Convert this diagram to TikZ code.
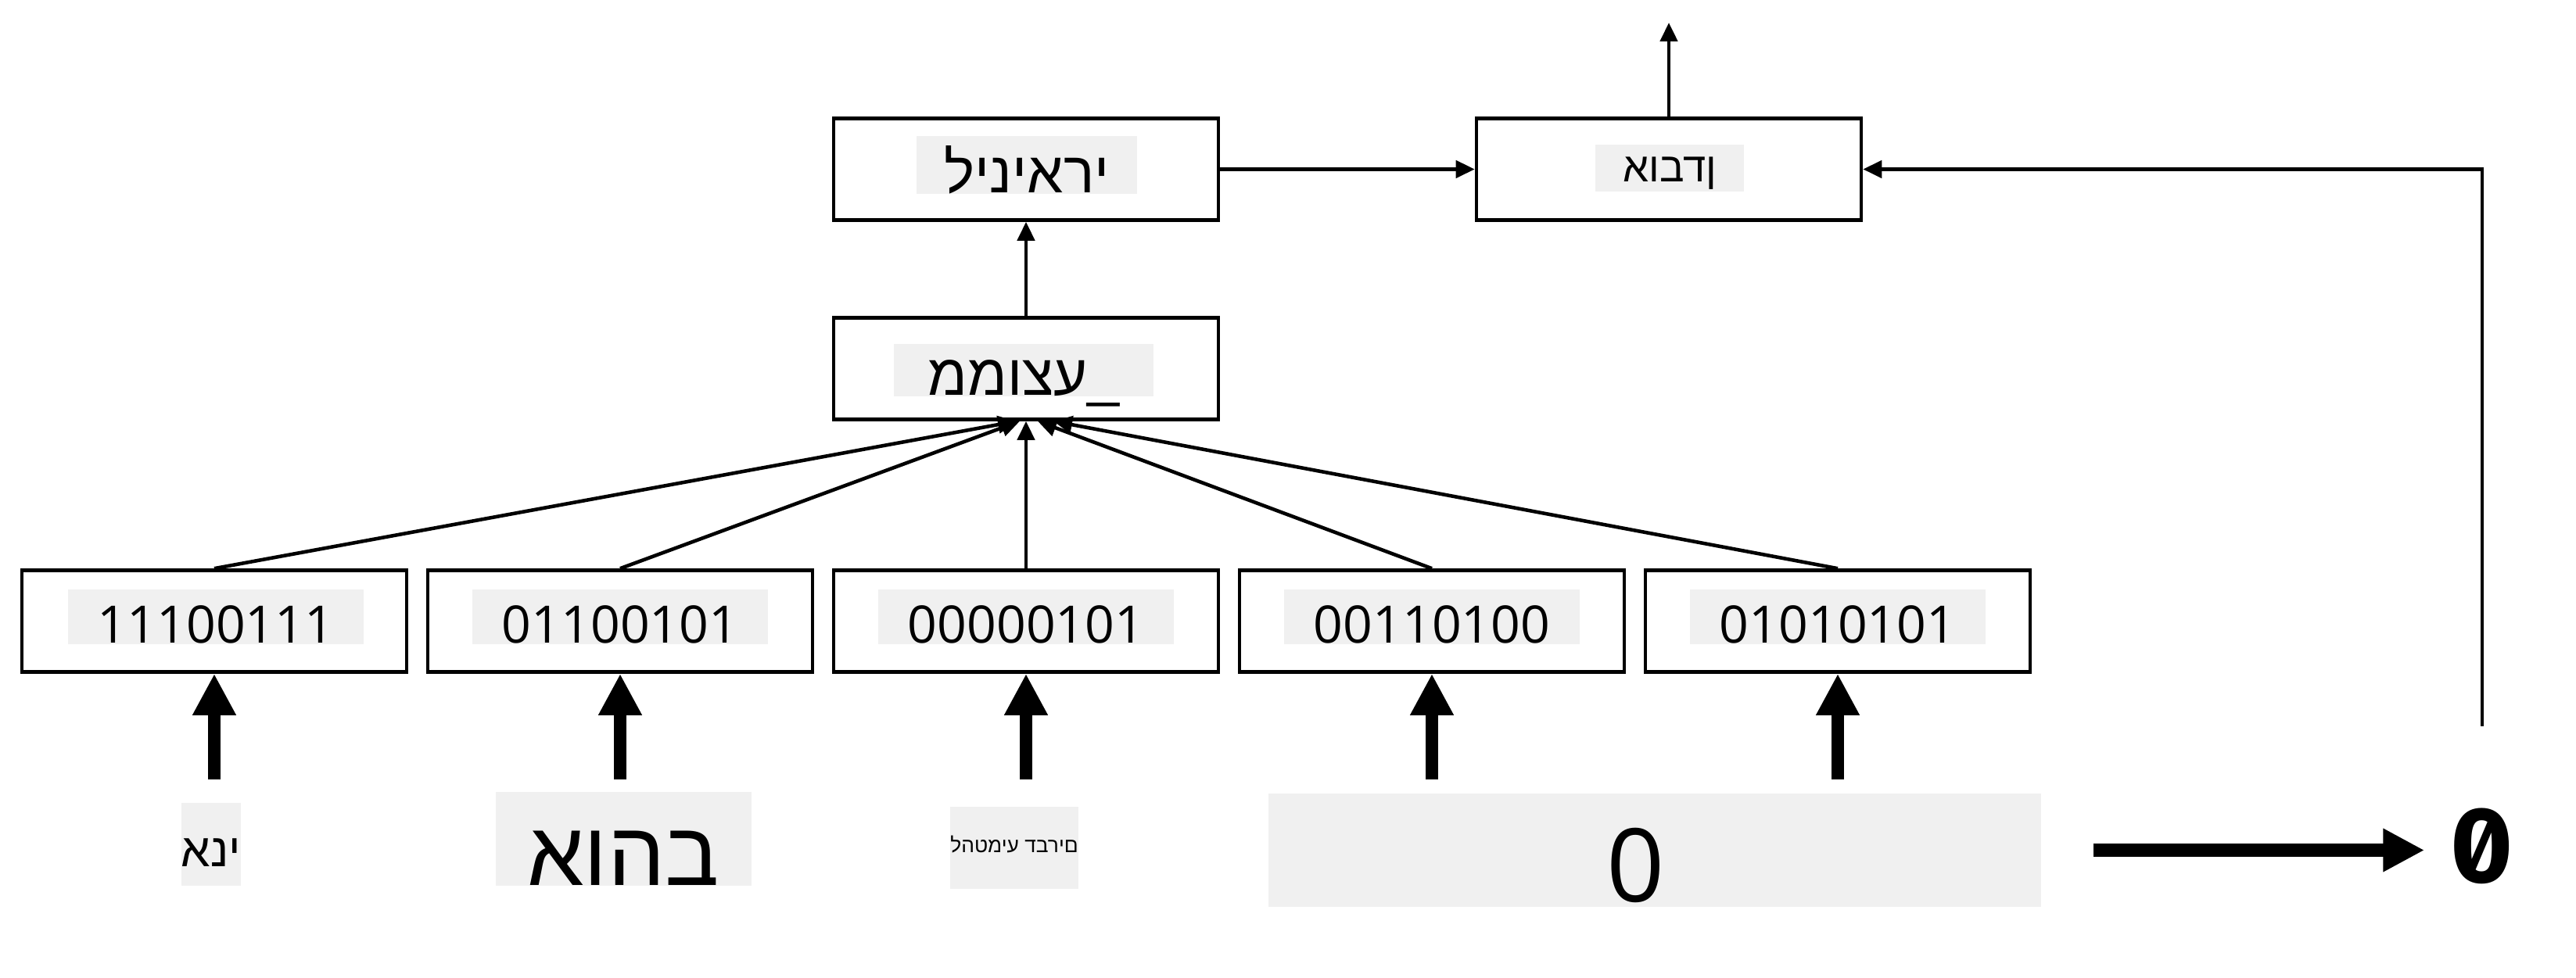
\documentclass[tikz,border=0pt]{standalone}
\usepackage{fontspec}
\setmainfont{Open Sans}
\newfontfamily\hebfont[Script=Hebrew]{Liberation Sans}
\newfontfamily\zerofont[RawFeature=+zero]{Fira Sans}
\TeXXeTstate=1
\usetikzlibrary{arrows.meta, positioning}
\definecolor{patch}{RGB}{240,240,240}
\newcommand{\heb}[1]{{\hebfont\beginR #1\endR}}

\begin{document}
\begin{tikzpicture}[
    box/.style={rectangle, draw, line width=1.3pt, minimum width=4.92cm,
                minimum height=1.30cm, inner sep=0pt},
    lbl/.style={fill=patch, inner xsep=0pt, inner ysep=0pt, anchor=base},
    bits/.style={lbl, minimum width=3.78cm, text height=0.69cm, text depth=0.01cm,
                 font=\fontsize{18.8}{21}\selectfont},
    arr/.style={-{Triangle[length=2.4mm, width=2.2mm]}, line width=1.3pt},
    fat/.style={-{Triangle[length=5.3mm, width=5.2mm]}, line width=4.8pt}]

    \useasboundingbox (0,0) rectangle (32.94,12.5);

    % Byte boxes
    \node[box] (b1) at (2.74, 4.555) {};
    \node[box] (b2) at (7.93, 4.555) {};
    \node[box] (b3) at (13.12, 4.555) {};
    \node[box] (b4) at (18.31, 4.555) {};
    \node[box] (b5) at (23.50, 4.555) {};
    \node[bits] (t1) at (2.76, 4.27) {11100111};
    \node[bits] (t2) at (7.93, 4.27) {01100101};
    \node[bits] (t3) at (13.12, 4.27) {00000101};
    \node[bits] (t4) at (18.31, 4.27) {00110100};
    \node[bits] (t5) at (23.50, 4.27) {01010101};

    % Upper boxes
    \node[box] (avg) at (13.12, 7.785) {};
    \node[box] (lin) at (13.12, 10.335) {};
    \node[box] (loss) at (21.34, 10.335) {};
    \node[lbl, minimum width=3.32cm, text height=0.66cm, text depth=0.01cm,
          font=\fontsize{21}{24}\selectfont] (tavg) at (13.09, 7.44) {\heb{\_עצוממ}};
    \node[lbl, minimum width=2.82cm, text height=0.73cm, text depth=0.01cm,
          font=\fontsize{21}{24}\selectfont] (tlin) at (13.13, 10.03) {\heb{יראיניל}};
    \node[lbl, minimum width=1.90cm, text height=0.48cm, text depth=0.12cm,
          font=\fontsize{15}{18}\selectfont] (tloss) at (21.35, 10.17) {\heb{ןדבוא}};

    % Input words
    \node[lbl, minimum width=0.71cm, text height=0.81cm, text depth=0.25cm,
          font=\fontsize{17}{20}\selectfont] (w1) at (2.70, 1.42) {\heb{ינא}};
    \node[lbl, minimum width=3.27cm, text height=1.20cm, text depth=0cm,
          font=\fontsize{33}{38}\selectfont] (w2) at (7.97, 1.17) {\heb{בהוא}};
    \node[lbl, minimum width=1.60cm, text height=0.59cm, text depth=0.46cm,
          font=\fontsize{7.5}{9}\selectfont] (w3) at (12.97, 1.59) {\heb{םירבד עימטהל}};
    \node[lbl, minimum width=9.88cm, text height=1.38cm, text depth=0.07cm,
          font=\fontsize{37}{42}\selectfont] (w4) at (21.16, 0.97) {\hspace*{-4.8mm}0};

    % Output
    \node[inner sep=0pt, font=\zerofont\bfseries\fontsize{39}{44}\selectfont] (res) at (31.74, 1.68) {0};

    % Inputs into bytes
    \coordinate[below=13.5mm of b1] (s1);
    \coordinate[below=13.5mm of b2] (s2);
    \coordinate[below=13.5mm of b3] (s3);
    \coordinate[below=13.5mm of b4] (s4);
    \coordinate[below=13.5mm of b5] (s5);
    \draw[fat] (s1) -- (b1);
    \draw[fat] (s2) -- (b2);
    \draw[fat] (s3) -- (b3);
    \draw[fat] (s4) -- (b4);
    \draw[fat] (s5) -- (b5);
    \draw[fat, shorten <=6.6mm, shorten >=3.3mm] (w4.east) -- (w4.east -| res.west);

    % Bytes into average
    \draw[arr] (b1.north) -- ([xshift=-1.2mm]avg.south);
    \draw[arr] (b2.north) -- ([xshift=-0.8mm]avg.south);
    \draw[arr] (b3) -- (avg);
    \draw[arr] (b4.north) -- ([xshift=1.5mm]avg.south);
    \draw[arr] (b5.north) -- ([xshift=3.5mm]avg.south);

    % Upper arrows
    \coordinate (top) at (21.34, 12.21);
    \draw[arr] (avg) -- (lin);
    \draw[arr] (lin) -- (loss);
    \draw[arr] (loss) -- (top);
    \draw[arr] ([yshift=10.4mm]res.north) |- (loss.east);
\end{tikzpicture}
\end{document}
